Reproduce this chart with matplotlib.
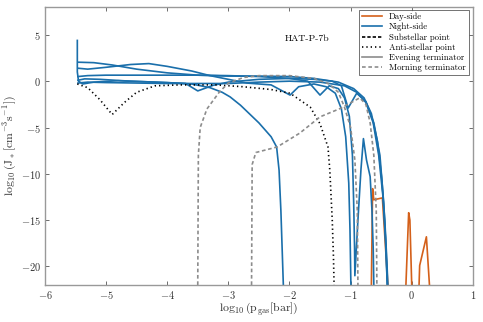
import matplotlib
matplotlib.use("Agg")
import matplotlib.pyplot as plt

plt.rcParams["font.family"] = "serif"
plt.rcParams["font.serif"] = ["cmr10", "DejaVu Serif"]
plt.rcParams["mathtext.fontset"] = "cm"
plt.rcParams["axes.formatter.use_mathtext"] = True

# --- night-side profiles (log10 p_gas [bar], log10 J_*) ---
night_x = [
    [-5.47, -5.47, -5.45, -5.38, -5.2, -4.8, -4.2, -3.7, -3.5, -3.25, -3.0, -2.5, -2.0, -1.6,
     -1.3, -1.15, -1.04, -0.9, -0.75, -0.62, -0.52, -0.46, -0.42, -0.40],
    [-5.46, -5.2, -4.9, -4.5, -4.0, -3.5, -3.0, -2.5, -2.0, -1.6, -1.2, -0.95, -0.78, -0.66,
     -0.56, -0.49, -0.44, -0.41, -0.39],
    [-5.46, -5.3, -5.0, -4.6, -4.3, -4.0, -3.6, -3.3, -3.0, -2.7, -2.3, -1.99, -1.85, -1.6,
     -1.4, -1.25, -1.15, -1.08, -1.03, -1.01, -0.995],
    [-5.46, -5.3, -5.0, -4.5, -4.0, -3.5, -3.0, -2.5, -2.0, -1.7, -1.5, -1.35, -1.2, -1.1,
     -1.02, -0.97, -0.95, -0.935, -0.93, -0.88, -0.83, -0.79, -0.74, -0.68, -0.65, -0.63, -0.62],
    [-5.46, -5.35, -5.1, -4.6, -4.0, -3.6, -3.3, -3.1, -2.97, -2.8, -2.5, -2.3, -2.21, -2.17,
     -2.14, -2.12, -2.10],
    [-5.46, -5.3, -5.0, -4.5, -4.0, -3.0, -2.5, -2.0, -1.5, -1.1, -0.9, -0.75, -0.63, -0.54,
     -0.47, -0.43, -0.40],
]
night_y = [
    [4.4, 1.0, 0.0, -0.3, -0.1, 0.05, -0.1, -0.25, -1.05, -0.45, -0.1, 0.2, 0.3, 0.2,
     0.0, -0.5, -2.9, -1.3, -2.2, -4.5, -8.0, -13.0, -18.0, -22.0],
    [2.05, 2.0, 1.75, 1.3, 0.9, 0.65, 0.55, 0.55, 0.5, 0.3, -0.1, -0.8, -1.8, -3.5,
     -6.5, -10.5, -15.0, -19.0, -22.0],
    [1.4, 1.3, 1.5, 1.8, 1.9, 1.6, 1.1, 0.6, 0.2, -0.2, -0.4, -1.5, -0.6, -0.3,
     -0.6, -1.3, -3.0, -6.0, -11.0, -16.0, -22.0],
    [0.5, 0.6, 0.65, 0.65, 0.65, 0.65, 0.6, 0.5, 0.3, 0.0, -1.5, -0.5, -0.8, -1.8,
     -3.8, -8.0, -13.0, -18.0, -21.0, -15.0, -9.5, -6.2, -8.5, -10.3, -14.0, -18.0, -22.0],
    [0.1, 0.25, 0.2, 0.0, -0.15, -0.3, -0.7, -1.2, -1.7, -2.6, -4.5, -6.0, -7.1, -9.6,
     -14.0, -18.0, -22.0],
    [-0.2, -0.1, -0.15, -0.2, -0.25, -0.25, -0.1, 0.0, -0.1, -0.5, -1.2, -2.3, -4.5, -8.0,
     -12.5, -17.0, -22.0],
]

# --- day-side profiles ---
day_x = [
    [-0.66, -0.64, -0.62, -0.55, -0.48, -0.39],
    [-0.095, -0.05, -0.03, 0.0],
    [0.12, 0.13, 0.24, 0.29],
]
day_y = [
    [-22.0, -11.6, -12.8, -12.7, -12.6, -22.0],
    [-22.0, -14.2, -15.0, -22.0],
    [-22.0, -19.9, -16.8, -22.0],
]

# --- anti-stellar point ---
anti_x = [-5.47, -5.3, -5.1, -4.9, -4.7, -4.5, -4.2, -3.8, -3.2, -2.76, -2.3, -1.99, -1.66,
          -1.5, -1.37, -1.34, -1.3, -1.28, -1.27]
anti_y = [-0.3, -0.7, -2.0, -3.6, -2.3, -1.2, -0.5, -0.4, -0.4, -0.6, -0.9, -1.3, -2.8,
          -4.6, -7.1, -9.6, -15.0, -19.0, -22.0]

# --- morning terminator ---
morn_x = [
    [-3.5, -3.49, -3.46, -3.35, -3.15, -3.0, -2.75, -2.5, -2.0, -1.6, -1.35, -1.2, -1.1,
     -1.0, -0.93, -0.89, -0.88],
    [-2.62, -2.61, -2.55, -2.2, -1.83, -1.5, -1.17, -0.85, -0.75, -0.68, -0.62, -0.58, -0.57],
]
morn_y = [
    [-22.0, -8.0, -5.0, -3.0, -1.2, -0.2, 0.4, 0.6, 0.6, 0.3, -0.3, -1.2, -2.8,
     -5.0, -8.5, -14.0, -22.0],
    [-22.0, -9.0, -7.7, -7.1, -5.6, -3.85, -2.95, -1.8, -2.5, -4.5, -8.0, -14.0, -22.0],
]

blue = "#1a6fab"
orange = "#d4601a"
grey = "#8c8c8c"

fig = plt.figure(figsize=(4.83, 3.22), dpi=100)
ax = fig.add_axes([0.093, 0.115, 0.886, 0.863])

lw = 1.2
for i, (x, y) in enumerate(zip(day_x, day_y)):
    ax.plot(x, y, color=orange, lw=lw, label="Day-side" if i == 0 else None)
for i, (x, y) in enumerate(zip(night_x, night_y)):
    ax.plot(x, y, color=blue, lw=lw, label="Night-side" if i == 0 else None)
ax.plot([], [], color="black", lw=lw, ls=(0, (2, 1.2)), label="Substellar point")
ax.plot(anti_x, anti_y, color="black", lw=lw, ls=(0, (0.8, 1.8)), label="Anti-stellar point")
ax.plot([], [], color=grey, lw=lw, label="Evening terminator")
for i, (x, y) in enumerate(zip(morn_x, morn_y)):
    ax.plot(x, y, color=grey, lw=lw, ls=(0, (2.2, 1.6)),
            label="Morning terminator" if i == 0 else None)

ax.text(-1.72, 4.6, "HAT-P-7b", fontsize=7, ha="center", va="center")

ax.set_xlim(-6, 1)
ax.set_ylim(-22, 8)
ax.set_xticks(range(-6, 2))
ax.set_yticks([-20, -15, -10, -5, 0, 5])
ax.tick_params(direction="in", top=True, right=True, length=3, width=0.6,
               color="#555555", labelsize=7.5, labelcolor="#333333", pad=3)
for s in ax.spines.values():
    s.set_color("#999999")
    s.set_linewidth(1.0)

ax.set_xlabel(r"$\log_{10}(\mathrm{p_{gas}[bar]})$", fontsize=8.5, color="#333333", labelpad=0)
ax.set_ylabel(r"$\log_{10}(\mathrm{J_*[cm^{-3}s^{-1}]})$", fontsize=8.5, color="#333333", labelpad=1)

leg = ax.legend(loc="upper right", bbox_to_anchor=(0.99, 0.99), fontsize=6.3,
                frameon=True, fancybox=False, handlelength=2.3, borderpad=0.35,
                labelspacing=0.2, handletextpad=0.8, borderaxespad=0)
leg.get_frame().set_edgecolor("#333333")
leg.get_frame().set_linewidth(0.6)

fig.savefig("out.png", dpi=100)
